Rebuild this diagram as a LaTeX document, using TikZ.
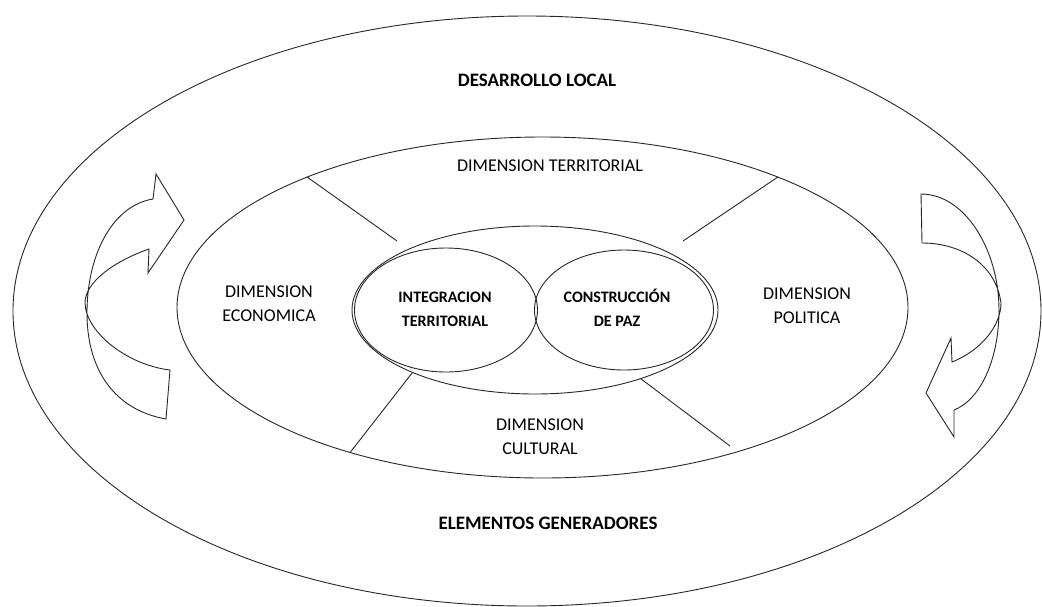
\documentclass[tikz,border=0pt]{standalone}
\usepackage{fontspec}
\setmainfont{Carlito}
\usetikzlibrary{shapes.geometric}

\begin{document}
\begin{tikzpicture}[x=1pt, y=-1pt, line width=0.9pt, draw=black!85,
    ring/.style={draw=black!85, ellipse, inner sep=0pt, outer sep=0pt},
    dim/.style={font=\fontsize{18}{24}\selectfont, align=center},
    title/.style={font=\fontsize{19}{24}\selectfont\bfseries},
    core/.style={font=\fontsize{16}{24}\selectfont\bfseries, align=center}]
    \useasboundingbox (0,0) rectangle (1042,606);
    \node[ring, minimum width=1028pt, minimum height=590pt] (local) at (527,311) {};
    \node[ring, minimum width=731pt, minimum height=341pt] (dimensiones) at (542.5,307.5) {};
    \node[ring, minimum width=366pt, minimum height=168pt] (nucleo) at (535,310) {};
    \node[ring, minimum width=183pt, minimum height=124pt] (integ) at (446,310) {};
    \node[ring, minimum width=179pt, minimum height=120pt] (paz) at (624,310) {};

    \node[title] (desarrollo) at (537,80) {DESARROLLO LOCAL};
    \node[title] (elementos) at (548,523) {ELEMENTOS GENERADORES};
    \node[dim] (territorial) at (550,166) {DIMENSION TERRITORIAL};
    \node[dim] (economica) at (269,304) {DIMENSION\\ECONOMICA};
    \node[dim] (politica) at (807,306) {DIMENSION\\POLITICA};
    \node[dim] (cultural) at (540,437) {DIMENSION\\CULTURAL};
    \node[core] (integtext) at (445,309) {INTEGRACION\\TERRITORIAL};
    \node[core] (paztext) at (617,307.5) {CONSTRUCCIÓN\\DE PAZ};

    \coordinate (tl) at (397,241);
    \coordinate (tr) at (683,241);
    \coordinate (br) at (730,446);
    \draw (dimensiones.151.9) -- (tl);
    \draw (dimensiones.29.6) -- (tr);
    \draw (nucleo.207.9) -- (dimensiones.217.2);
    \draw (nucleo.327.5) -- (br);

    \draw[line join=miter] (166,419) .. controls (115,410) and (86,370) .. (87,310)
        .. controls (88,250) and (115,205) .. (153,199) -- (156,174) -- (184,220)
        -- (148,273) -- (149,249) .. controls (112,262) and (85,283) .. (85,303)
        .. controls (86,333) and (128,365) .. (170,370) -- cycle;
    \draw[line join=miter] (921,194) .. controls (965,194) and (999,250) .. (999,310)
        .. controls (999,360) and (980,400) .. (954,410) -- (954,437) -- (926,393)
        -- (951,338) -- (952,362) .. controls (982,350) and (1001,325) .. (1001,303)
        .. controls (996,265) and (962,243) .. (922,243) -- cycle;
\end{tikzpicture}
\end{document}
